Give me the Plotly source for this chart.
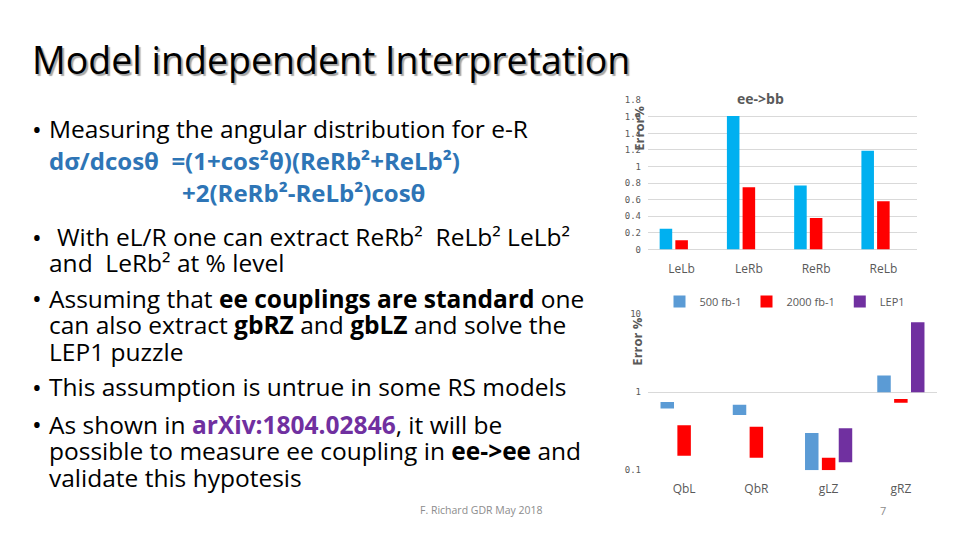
import plotly.graph_objects as go

# ---------------- data ----------------
top_categories = ["LeLb", "LeRb", "ReRb", "ReLb"]
top_500 = [0.25, 1.61, 0.77, 1.19]
top_2000 = [0.11, 0.75, 0.38, 0.58]
top_empty = [0, 0, 0, 0]
top_ticks = [0, 0.2, 0.4, 0.6, 0.8, 1, 1.2, 1.4, 1.6, 1.8]
top_ticktext = ["0", "0.2", "0.4", "0.6", "0.8", "1", "1.2", "1.4", "1.6", "1.8"]

bot_categories = ["QbL", "QbR", "gLZ", "gRZ"]
bot_500_low = [0.62, 0.51, 0.1, 1.0]
bot_500_high = [0.75, 0.69, 0.30, 1.64]
bot_2000_low = [0.153, 0.144, 0.1, 0.73]
bot_2000_high = [0.376, 0.362, 0.144, 0.82]
bot_lep_low = [None, None, 0.127, 1.0]
bot_lep_high = [None, None, 0.345, 7.9]
bot_ticks = [0.1, 1, 10]
bot_ticktext = ["0.1", "1", "10"]

W, H = 960, 540
GRAY = "#595959"
GRID = "#D9D9D9"


def px(x):
    return x / W


def py(y):
    return 1 - y / H


def span(lo, hi):
    return [None if (a is None or b is None) else b - a for a, b in zip(lo, hi)]


fig = go.Figure()

# top chart (ee->bb)
fig.add_trace(go.Bar(x=top_categories, y=top_500, marker_color="#00B0F0",
                     showlegend=False, xaxis="x", yaxis="y", name="500 fb-1"))
fig.add_trace(go.Bar(x=top_categories, y=top_2000, marker_color="#FF0000",
                     showlegend=False, xaxis="x", yaxis="y", name="2000 fb-1"))
fig.add_trace(go.Bar(x=top_categories, y=top_empty, marker_color="rgba(0,0,0,0)",
                     showlegend=False, xaxis="x", yaxis="y", name="LEP1"))

# bottom chart (log)
fig.add_trace(go.Bar(x=bot_categories, y=span(bot_500_low, bot_500_high), base=bot_500_low,
                     marker_color="#5B9BD5", name="500 fb-1", xaxis="x2", yaxis="y2"))
fig.add_trace(go.Bar(x=bot_categories, y=span(bot_2000_low, bot_2000_high), base=bot_2000_low,
                     marker_color="#FF0000", name="2000 fb-1", xaxis="x2", yaxis="y2"))
fig.add_trace(go.Bar(x=bot_categories, y=span(bot_lep_low, bot_lep_high), base=bot_lep_low,
                     marker_color="#7030A0", name="LEP1", xaxis="x2", yaxis="y2"))

for tr in fig.data:
    tr.marker.line.width = 0
    tr.hoverinfo = "skip"

tickfont = dict(family="DejaVu Sans Mono", size=9, color=GRAY)
catfont = dict(family="Open Sans", size=12, color=GRAY)

fig.update_layout(
    width=W, height=H, autosize=False,
    margin=dict(l=0, r=0, t=0, b=0),
    paper_bgcolor="white", plot_bgcolor="white",
    barmode="group", bargap=0.3, bargroupgap=0.2,
    xaxis=dict(domain=[px(648), px(917)], anchor="y", showgrid=False, zeroline=False,
               showline=False, ticks="", tickfont=catfont, ticklabelstandoff=11),
    yaxis=dict(domain=[py(249), py(97)], anchor="x", range=[0, 1.8],
               tickvals=top_ticks, ticktext=top_ticktext, tickfont=tickfont,
               showgrid=True, gridcolor=GRID, gridwidth=1, zeroline=True,
               zerolinecolor=GRID, zerolinewidth=1, showline=False, ticks="",
               ticklabelstandoff=6),
    xaxis2=dict(domain=[px(648), px(937)], anchor="y2", showgrid=False, zeroline=False,
                showline=False, ticks="", tickfont=catfont, ticklabelstandoff=10),
    yaxis2=dict(domain=[py(474), py(315)], anchor="x2", type="log", range=[-1, 1],
                tickvals=bot_ticks, ticktext=bot_ticktext, tickfont=tickfont,
                showgrid=True, gridcolor=GRID, gridwidth=1, zeroline=False,
                showline=False, ticks="", ticklabelstandoff=6),
    legend=dict(orientation="h", x=px(785), xanchor="center", y=py(302), yanchor="middle",
                font=dict(family="Open Sans", size=11, color=GRAY), bgcolor="rgba(0,0,0,0)",
                itemwidth=30, traceorder="normal", tracegroupgap=0),
    showlegend=True,
)

ann = []


def text(x, y, s, size=24, color="black", family="Open Sans", anchor="left", shadow=None, **kw):
    font = dict(family=family, size=size, color=color)
    if shadow:
        font["shadow"] = shadow
    ann.append(dict(x=px(x), y=py(y), xref="paper", yref="paper", text=s,
                    showarrow=False, xanchor=anchor, yanchor="middle",
                    font=font, **kw))


# Title with shadow
text(30, 56, "Model independent Interpretation", size=37.5, color="black",
     shadow="2px 2px 1px #A6A6A6")

BLUE = "#2E75B6"
PURPLE = "#7030A0"
bullet_x = 30
tx = 47
BODY = 24.5
BOLD = 24
lines = [
    (126, True, tx, BODY, "Measuring the angular distribution for e-R"),
    (158, False, tx, BOLD, "<b><span style='color:%s'>dσ/dcosθ  =(1+cos²θ)(ReRb²+ReLb²)</span></b>" % BLUE),
    (191, False, 180, BOLD, "<b><span style='color:%s'>+2(ReRb²-ReLb²)cosθ</span></b>" % BLUE),
    (236, True, 55, BODY, "With eL/R one can extract ReRb²  ReLb² LeLb²"),
    (262, False, tx, BODY, "and  LeRb² at % level"),
    (299, True, tx, BODY, "Assuming that <b>ee couplings are standard</b> one"),
    (326, False, tx, BODY, "can also extract <b>gbRZ</b> and <b>gbLZ</b> and solve the"),
    (353, False, tx, BODY, "LEP1 puzzle"),
    (389, True, tx, BODY, "This assumption is untrue in some RS models"),
    (427, True, tx, BODY, "As shown in <b><span style='color:%s'>arXiv:1804.02846</span></b>, it will be" % PURPLE),
    (454, False, tx, BODY, "possible to measure ee coupling in <b>ee->ee</b> and"),
    (481, False, tx, BODY, "validate this hypotesis"),
]
for y, bullet, x, size, s in lines:
    if bullet:
        text(bullet_x, y, "•", size=26)
    text(x, y, s, size=size)

text(418, 515, "F. Richard GDR May 2018", size=10.5, color="#8C8C8C")
text(883, 515, "7", size=11, color="#8C8C8C", anchor="center")

# chart titles
text(760, 95, "<b>ee->bb</b>", size=14, color=GRAY, anchor="center")
text(639, 126, "<b>Error%</b>", size=13, color=GRAY, anchor="center", textangle=-90)
text(637, 343, "<b>Error %</b>", size=13, color=GRAY, anchor="center", textangle=-90)

fig.update_layout(annotations=ann)
fig.write_html("out.html")
